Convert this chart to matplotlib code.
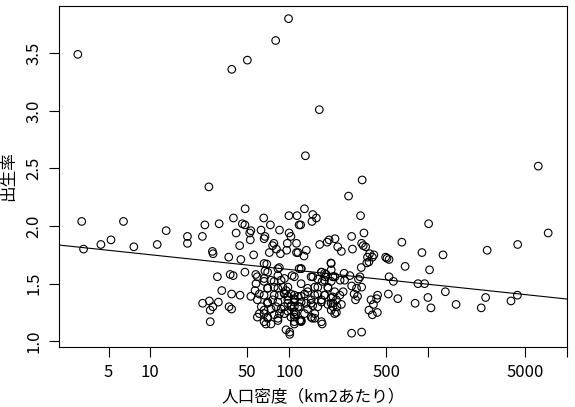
import matplotlib
matplotlib.use('Agg')
import matplotlib.pyplot as plt
import numpy as np

plt.rcParams['font.family'] = ['Noto Sans CJK JP', 'DejaVu Sans']

# population density (per km2) and fertility rate
density = [
    3.0, 38.6, 50, 80, 99, 26.4, 165, 131, 336, 268, 6240,
    3.2, 3.3, 4.4, 5.2, 6.4, 7.6, 11.2, 13.0, 18.5, 18.5, 23.7, 24.7, 31.3, 39.7, 48.2,
    28, 28.3, 36.7, 44.9, 44, 41.5, 46, 48, 53, 52, 52.5, 48, 55.5, 30.4, 37.6, 39.5,
    32.7, 38.5, 44.3, 23.8, 26.6, 30.9, 28.2, 27, 36.9, 38.5, 27, 57.5, 59,
    62.7, 65.6, 73.3, 85.2, 99.6, 114, 118, 100, 103, 97, 96, 86.6, 76, 77.6, 72, 81,
    67, 66, 69, 67, 85, 113, 113, 118, 105,
    57.7, 56.8, 53, 61, 66, 70, 74, 78, 87.5, 90, 85, 95, 103, 109, 98, 116, 59, 63,
    61, 59, 66, 70, 76, 80.5, 85, 92.5, 98, 109, 103, 112, 119, 70, 74, 68, 83, 95, 101, 109,
    129, 121, 148, 157, 146, 327, 1012, 7360, 4436, 2674, 1285, 906, 649, 507, 525, 496,
    685, 1028, 525, 564, 848, 947, 1336, 1000, 809, 1052, 1596, 2423, 2606, 3970, 4416,
    607, 519, 434, 427, 389, 405, 376, 398, 432, 346, 333, 342, 356, 282, 286, 214, 194,
    188, 166, 224, 238, 133, 116, 128, 380, 367, 398, 408, 363, 376, 331, 200, 249, 233,
    324, 316, 282, 306, 333, 294, 311, 301, 219, 221, 207, 238, 201, 173, 147, 282, 333,
    122, 148, 171, 182, 207, 173, 153, 190, 136, 161, 180, 144, 122, 171, 133, 148, 109,
    119, 103, 98, 92, 109, 122, 101, 201, 190, 219, 232, 245, 251, 274, 214, 185, 201, 180, 161,
    66, 83, 122, 201, 70, 83, 171, 207, 66, 78, 92.5, 109, 144, 180, 201, 70, 83, 98, 122,
    136, 161, 191, 213, 66, 78, 92.5, 109, 129, 153, 180, 207, 70, 83, 98, 109, 122, 144,
    171, 201, 74, 87.5, 103, 116, 136, 161, 66, 78, 92.5, 109, 129, 153, 70, 83, 109, 122,
    144, 207, 213, 66, 109, 122, 153, 171,
]
birth_rate = [
    3.49, 3.36, 3.44, 3.61, 3.80, 2.34, 3.01, 2.61, 2.40, 2.26, 2.52,
    2.04, 1.80, 1.84, 1.88, 2.04, 1.82, 1.84, 1.96, 1.91, 1.85, 1.91, 2.01, 2.02, 2.07, 2.15,
    1.78, 1.76, 1.73, 1.71, 1.83, 1.94, 2.02, 2.01, 1.96, 1.94, 1.88, 1.60, 1.75, 1.56, 1.58, 1.57,
    1.44, 1.41, 1.40, 1.33, 1.35, 1.34, 1.30, 1.27, 1.30, 1.28, 1.17, 1.58, 1.56,
    1.965, 2.07, 2.01, 1.965, 2.09, 2.09, 2.01, 1.94, 1.91, 1.85, 1.79, 1.76, 1.83, 1.85, 1.77, 1.80,
    1.91, 1.89, 1.67, 1.61, 1.64, 1.85, 1.77, 1.63, 1.57,
    1.50, 1.44, 1.39, 1.41, 1.52, 1.46, 1.53, 1.47, 1.53, 1.47, 1.40, 1.44, 1.41, 1.37, 1.33, 1.39, 1.36, 1.30,
    1.24, 1.21, 1.27, 1.33, 1.36, 1.30, 1.24, 1.30, 1.26, 1.30, 1.21, 1.24, 1.18, 1.21, 1.15, 1.15, 1.18, 1.10, 1.06, 1.15,
    2.15, 2.01, 2.10, 2.07, 2.04, 2.09, 2.02, 1.94, 1.84, 1.79, 1.75, 1.77, 1.86, 1.72, 1.71, 1.73,
    1.65, 1.62, 1.56, 1.52, 1.50, 1.50, 1.43, 1.38, 1.33, 1.29, 1.32, 1.29, 1.38, 1.35, 1.40,
    1.37, 1.41, 1.40, 1.37, 1.36, 1.32, 1.27, 1.23, 1.25, 1.94, 1.85, 1.83, 1.82, 1.91, 1.80, 1.89, 1.88,
    1.86, 1.84, 1.82, 1.78, 1.79, 1.77, 1.74, 1.76, 1.73, 1.73, 1.75, 1.68, 1.69, 1.64, 1.68, 1.59, 1.53,
    1.56, 1.54, 1.48, 1.46, 1.47, 1.41, 1.39, 1.36, 1.25, 1.30, 1.33, 1.32, 1.38, 1.15, 1.20, 1.07, 1.08,
    1.63, 1.56, 1.60, 1.56, 1.56, 1.52, 1.47, 1.47, 1.43, 1.41, 1.40, 1.36, 1.39, 1.36, 1.33, 1.31, 1.36,
    1.30, 1.31, 1.39, 1.42, 1.23, 1.18, 1.08, 1.27, 1.32, 1.36, 1.40, 1.43, 1.53, 1.57, 1.56, 1.58, 1.62, 1.59, 1.54,
    1.675, 1.63, 1.63, 1.675, 1.60, 1.57, 1.60, 1.56, 1.545, 1.52, 1.545, 1.56, 1.56, 1.53, 1.52, 1.46, 1.46, 1.47, 1.50,
    1.46, 1.47, 1.46, 1.43, 1.40, 1.40, 1.41, 1.40, 1.41, 1.40, 1.40, 1.385, 1.34, 1.34, 1.36, 1.34, 1.34, 1.33,
    1.34, 1.33, 1.28, 1.28, 1.30, 1.30, 1.28, 1.30, 1.24, 1.23, 1.24, 1.255, 1.24, 1.24, 1.20, 1.20, 1.21, 1.18,
    1.21, 1.30, 1.24, 1.17, 1.17, 1.17, 1.20, 1.17,
]

# regression line: rate = intercept + slope * log10(density)
intercept = 1.879
slope = -0.128

x_ticks = [5, 10, 50, 100, 500, 1000, 5000, 10000]
x_tick_labels = ['5', '10', '50', '100', '500', '', '5000', '']
y_ticks = [1.0, 1.5, 2.0, 2.5, 3.0, 3.5]


fig = plt.figure(figsize=(5.75, 4.07), dpi=100)
ax = fig.add_axes([59/575, 60/407, 508/575, 341/407])

ax.scatter(density, birth_rate, s=30, facecolors='none', edgecolors='black', linewidths=0.8)

ax.set_xscale('log')
lx = np.log10(density)
span = lx.max() - lx.min()
xlo, xhi = 10**(lx.min() - 0.04*span), 10**(lx.max() + 0.04*span)
ax.set_xlim(xlo, xhi)
yspan = max(birth_rate) - min(birth_rate)
ax.set_ylim(min(birth_rate) - 0.04*yspan, max(birth_rate) + 0.04*yspan)

xs = np.logspace(np.log10(xlo), np.log10(xhi), 50)
ax.plot(xs, intercept + slope*np.log10(xs), color='black', linewidth=0.8)

ax.set_xticks(x_ticks)
ax.set_xticklabels(x_tick_labels)
ax.xaxis.set_minor_locator(matplotlib.ticker.NullLocator())
ax.set_yticks(y_ticks)
ax.set_yticklabels([f'{v:.1f}' for v in y_ticks], rotation=90, va='center')
ax.tick_params(length=7, width=0.8, labelsize=12, pad=5)

for s in ax.spines.values():
    s.set_linewidth(0.8)

ax.set_xlabel('人口密度（km2あたり）', fontsize=12, labelpad=6)
ax.set_ylabel('出生率', fontsize=12, labelpad=6)

plt.savefig('out.png', dpi=100)
